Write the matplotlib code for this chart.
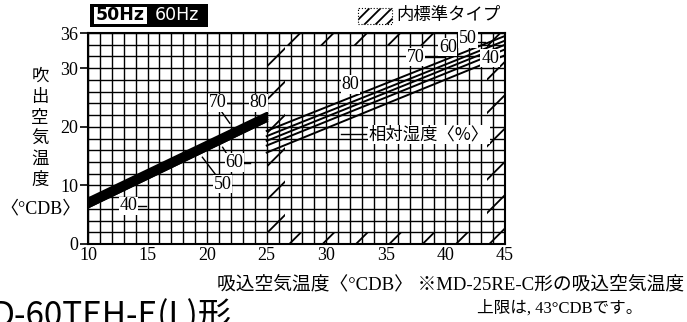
import numpy as np
import matplotlib
matplotlib.use('Agg')
import matplotlib.pyplot as plt
from matplotlib.patches import Rectangle
from matplotlib.ticker import MultipleLocator

# relative humidity curves (%), two straight segments each
rh_levels = [40, 50, 60, 70, 80]
x_low = [10, 25]
y_low = {40: [6.3, 21.0], 50: [6.6, 21.3], 60: [6.9, 21.6],
         70: [7.3, 22.0], 80: [7.7, 22.3]}
x_high = [25, 45]
y_high = {40: [15.6, 32.2], 50: [16.8, 33.2], 60: [17.6, 34.0],
          70: [18.4, 34.7], 80: [19.3, 35.5]}

# hatched "outside standard" frame: (x0, y0, width, height)
hatch_boxes = [(25, 0, 1.5, 36), (43.5, 0, 1.5, 36),
               (26.5, 0, 17, 2), (26.5, 34, 17, 2)]

xticks = [10, 15, 20, 25, 30, 35, 40, 45]
yticks = [0, 10, 20, 30, 36]

jp = ['Noto Sans CJK JP', 'DejaVu Sans']
serif_jp = ['Liberation Serif', 'Noto Sans CJK JP']
plt.rcParams['hatch.linewidth'] = 1.3

fig = plt.figure(figsize=(6.87, 3.22), dpi=100)
ax = fig.add_axes([88/687, 1-244/322, (505-88)/687, (244-33)/322])
ax.set_xlim(10, 45)
ax.set_ylim(0, 36)

# grid
ax.xaxis.set_minor_locator(MultipleLocator(1))
ax.yaxis.set_minor_locator(MultipleLocator(2))
ax.set_xticks(xticks)
ax.set_yticks(yticks)
ax.grid(which='both', color='black', lw=1.0, zorder=0)
ax.set_axisbelow(True)
ax.tick_params(which='minor', length=0)
ax.tick_params(axis='x', which='major', length=0, pad=2)
ax.tick_params(axis='y', which='major', length=6, width=1.2, pad=1)
for lab in ax.get_xticklabels() + ax.get_yticklabels():
    lab.set_fontfamily('Liberation Serif')
    lab.set_fontsize(13)
for s in ax.spines.values():
    s.set_linewidth(1.5)

# hatching
for (hx, hy, hw, hh) in hatch_boxes:
    ax.add_patch(Rectangle((hx, hy), hw, hh, facecolor='none',
                           edgecolor='black', hatch='/', lw=0, zorder=1))

# curves
ax.fill_between(x_low, y_low[40], y_low[80], color='black', zorder=3)
for rh in rh_levels:
    ax.plot(x_low, y_low[rh], color='black', lw=2.0, zorder=3)
    ax.plot(x_high, y_high[rh], color='black', lw=1.4, zorder=3)

# labels on curves
box = dict(facecolor='white', edgecolor='none', pad=0.5)
lab_kw = dict(fontfamily='Liberation Serif', fontsize=13, ha='center',
              va='center', zorder=5, bbox=box)
left_labels = [('70', 20.9, 24.1), ('80', 24.3, 24.1), ('60', 22.3, 13.9),
               ('50', 21.3, 10.2), ('40', 13.4, 6.5)]
right_labels = [('80', 32.0, 27.2), ('70', 37.5, 31.9), ('60', 40.2, 33.6),
                ('50', 41.9, 35.0), ('40', 43.75, 31.7)]
for t, lx, ly in left_labels + right_labels:
    ax.text(lx, ly, t, **lab_kw)

leaders = [([21.6, 22.8], [24.1, 24.1]), ([21.1, 21.9], [22.9, 20.6]),
           ([21.3, 21.8], [16.5, 14.9]), ([23.0, 23.6], [13.9, 13.9]),
           ([19.6, 20.8], [14.8, 11.6]), ([14.1, 14.9], [6.5, 6.5]),
           ([38.3, 40.0], [31.9, 31.9]), ([42.6, 43.3], [34.5, 34.5]),
           ([31.2, 33.3], [18.7, 18.7])]
for lx, ly in leaders:
    ax.plot(lx, ly, color='black', lw=1.0, zorder=4)

ax.text(38.6, 18.7, '相対湿度〈%〉', fontfamily=jp, fontsize=12.5,
        ha='center', va='center', zorder=5, bbox=box)

# y axis title, stacked characters
fig.text(40/687, 1-128/322, '\n'.join('吹出空気温度'), fontfamily=jp,
         fontsize=12.5, ha='center', va='center', linespacing=1.2)
fig.text(41/687, 1-209/322, '〈°CDB〉', fontfamily=serif_jp, fontsize=13,
         ha='center', va='center')

# x axis title and note
fig.text(684/687, 1-285/322, '吸込空気温度〈°CDB〉 ※MD-25RE-C形の吸込空気温度',
         fontfamily=serif_jp, fontsize=13.5, ha='right', va='center')
fig.text(560/687, 1-308/322, '上限は, 43°CDBです。', fontfamily=serif_jp,
         fontsize=12, ha='center', va='center')

# cut-off heading from the next section (only its top shows, as in the source)
fig.text(-8/687, 1-334/322, 'D-60TEH-E(L)形', fontfamily=jp, fontsize=24,
         ha='left', va='bottom', color='black')

# 50Hz / 60Hz badge
fig.patches.append(Rectangle((90/687, 1-27/322), 118/687, 23/322,
                             transform=fig.transFigure, facecolor='black',
                             edgecolor='black', lw=0))
fig.patches.append(Rectangle((94/687, 1-24/322), 53/687, 17/322,
                             transform=fig.transFigure, facecolor='white',
                             edgecolor='none', lw=0))
fig.text(120/687, 1-15.5/322, '50Hz', fontfamily='DejaVu Sans', fontsize=12.5,
         fontweight='bold', color='black', ha='center', va='center')
fig.text(177/687, 1-15.5/322, '60Hz', fontfamily='DejaVu Sans', fontsize=12.5,
         color='white', ha='center', va='center')

# legend for hatched region
fig.patches.append(Rectangle((358/687, 1-24/322), 34/687, 16/322,
                             transform=fig.transFigure, facecolor='white',
                             edgecolor='black', hatch='///', lw=0.8,
                             linestyle=':'))
fig.text(396/687, 1-15/322, '内標準タイプ', fontfamily=jp, fontsize=12.5,
         ha='left', va='center')

fig.savefig('out.png', dpi=100)
